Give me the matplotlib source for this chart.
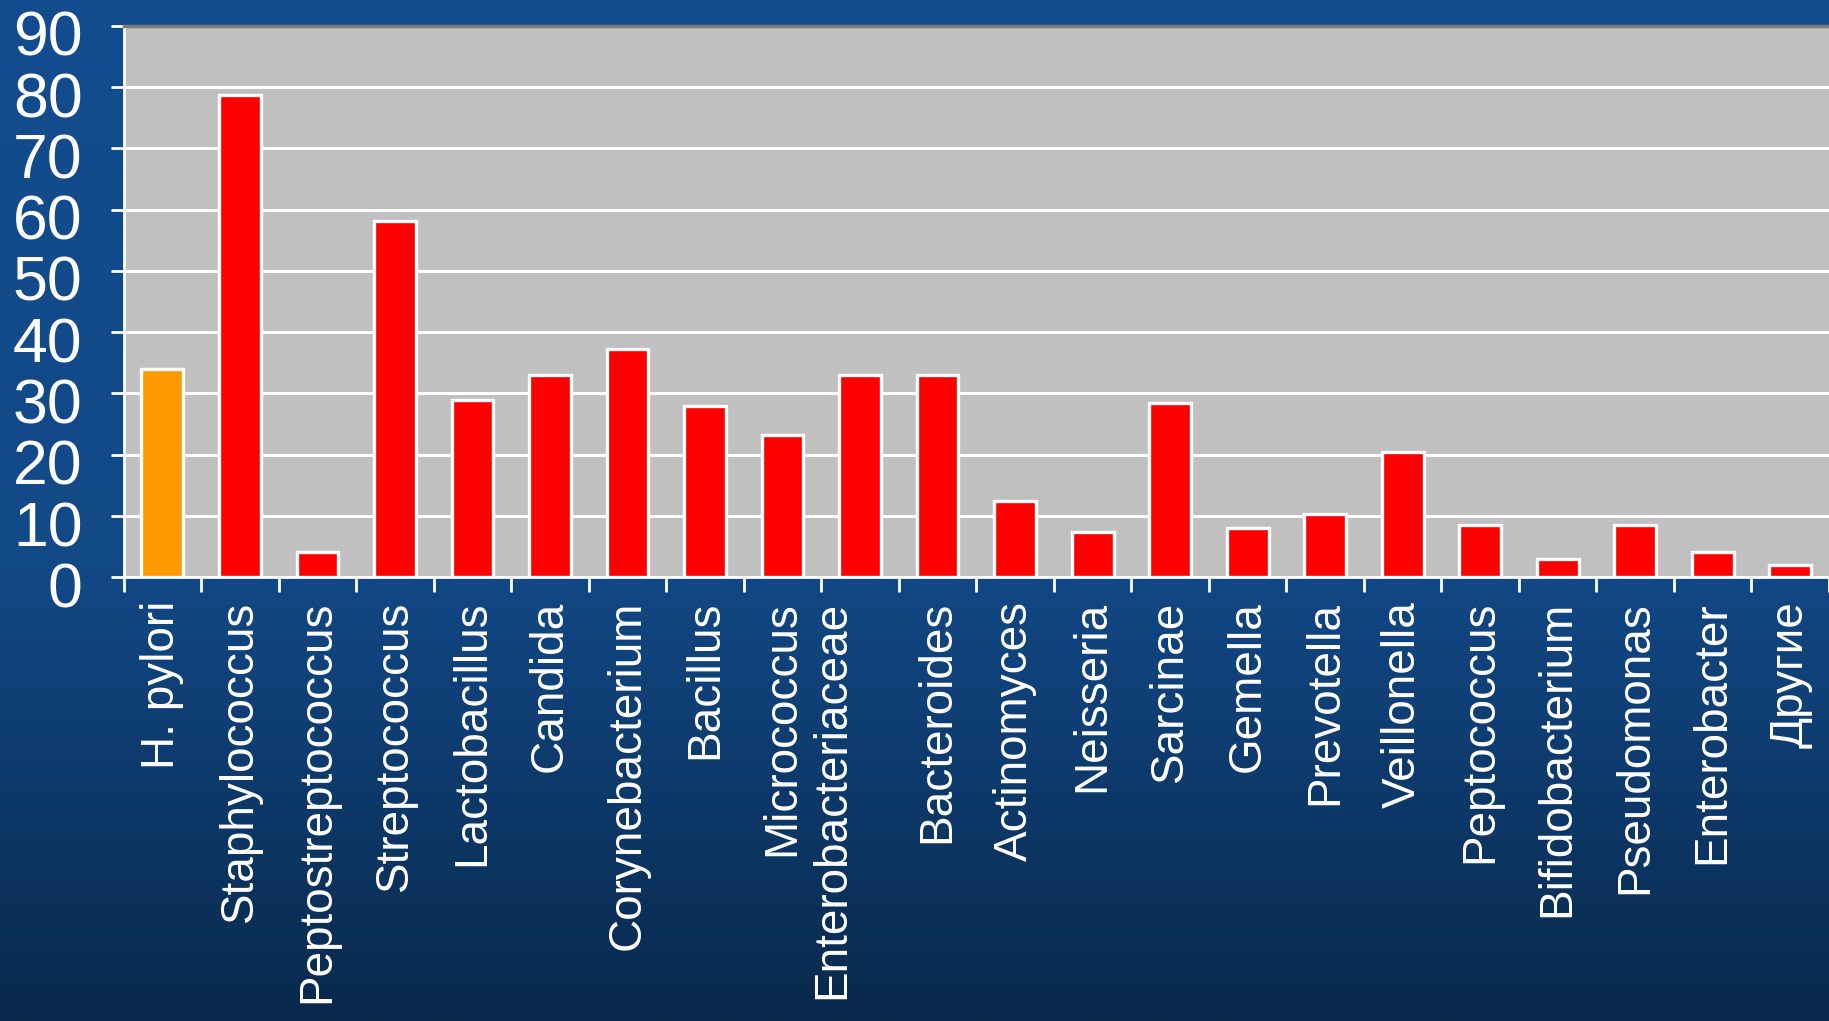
import numpy as np
import matplotlib.pyplot as plt
import matplotlib.transforms as mtransforms
from matplotlib.colors import LinearSegmentedColormap

plt.rcParams['font.family'] = ['Liberation Sans', 'DejaVu Sans']

genera = ["H. pylori", "Staphylococcus", "Peptostreptococcus", "Streptococcus",
          "Lactobacillus", "Candida", "Corynebacterium", "Bacillus",
          "Micrococcus", "Enterobacteriaceae", "Bacteroides", "Actinomyces",
          "Neisseria", "Sarcinae", "Gemella", "Prevotella", "Veillonella",
          "Peptococcus", "Bifidobacterium", "Pseudomonas", "Enterobacter",
          "Другие"]
frequency = [34, 78.7, 4.2, 58.2, 29, 33, 37.3, 28, 23.2, 33, 33, 12.4,
             7.4, 28.5, 8, 10.3, 20.5, 8.6, 3, 8.6, 4.2, 2.1]
highlight = "H. pylori"
y_ticks = list(range(0, 100, 10))

fig = plt.figure(figsize=(18.29, 10.21), dpi=100)

# slide background: blue, darker towards the bottom
bg = fig.add_axes([0, 0, 1, 1], zorder=0)
grad = np.linspace(0, 1, 512)[:, None]
slide = LinearSegmentedColormap.from_list(
    "slide", [(0, "#134d8f"), (0.55, "#124987"), (0.78, "#0d396a"), (1, "#09294b")])
bg.imshow(grad, aspect="auto", cmap=slide, extent=[0, 1, 0, 1])
bg.axis("off")

ax = fig.add_axes([0.0676, 0.4345, 0.9324, 0.5403], zorder=1)
ax.set_facecolor("#c0c0c0")

x = np.arange(len(genera))
colors = ["#ff9900" if g == highlight else "#ff0000" for g in genera]
ax.bar(x, frequency, width=0.54, color=colors, edgecolor="white",
       linewidth=2.4, zorder=3)

ax.set_xlim(-0.5, len(genera) - 0.5)
ax.set_ylim(0, 90)
ax.set_axisbelow(True)
ax.yaxis.grid(True, color="white", linewidth=2.2)

ax.spines["right"].set_visible(False)
ax.spines["top"].set_color("#7a7a7a")
ax.spines["top"].set_linewidth(2.5)
for side in ("left", "bottom"):
    ax.spines[side].set_color("white")
    ax.spines[side].set_linewidth(2)

ax.set_yticks(y_ticks)
ax.set_yticklabels([str(v) for v in y_ticks], fontsize=45, color="white")
ax.tick_params(axis="y", length=9.5, width=2, color="white", pad=20)
for lbl in ax.get_yticklabels():
    lbl.set_verticalalignment("center_baseline")
    lbl.set_transform(lbl.get_transform() +
                      mtransforms.ScaledTranslation(0, -0.07, fig.dpi_scale_trans))

ax.set_xticks(x)
ax.set_xticklabels(genera, rotation=90, fontsize=33, color="white",
                   ha="center", va="top")
ax.set_xticks(np.arange(-0.5, len(genera)), minor=True)
ax.tick_params(axis="x", which="major", length=0, pad=17)
ax.tick_params(axis="x", which="minor", length=11, width=2, color="white")

# the long label sits a little left of its bar
lbl = ax.get_xticklabels()[genera.index("Enterobacteriaceae")]
lbl.set_transform(lbl.get_transform() +
                  mtransforms.ScaledTranslation(-0.28, 0, fig.dpi_scale_trans))

fig.savefig("out.png", dpi=100)
